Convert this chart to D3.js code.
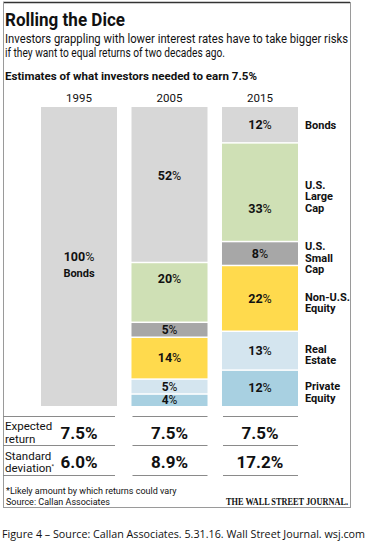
<!DOCTYPE html>
<html>
<head>
<meta charset="utf-8">
<script src="https://cdn.jsdelivr.net/npm/d3@7/dist/d3.min.js"></script>
<style>
  html, body { margin: 0; padding: 0; background: #fff; }
  svg { display: block; }
  text { font-family: "Roboto", "Liberation Sans", sans-serif; fill: #111; }
</style>
</head>
<body>
<svg id="chart" width="370" height="541"></svg>
<script>
// ---- data ----
const years = ["1995", "2005", "2015"];
const categories = ["Bonds", "U.S. Large Cap", "U.S. Small Cap", "Non-U.S. Equity", "Real Estate", "Private Equity"];
const categoryLabelLines = [["Bonds"], ["U.S.", "Large", "Cap"], ["U.S.", "Small", "Cap"], ["Non-U.S.", "Equity"], ["Real", "Estate"], ["Private", "Equity"]];
const values1995 = [100, 0, 0, 0, 0, 0];
const values2005 = [52, 20, 5, 14, 5, 4];
const values2015 = [12, 33, 8, 22, 13, 12];
const expectedReturn = [7.5, 7.5, 7.5];
const standardDeviation = [6.0, 8.9, 17.2];

const colors = ["#d7d7d7", "#cfe0b5", "#a7a7a7", "#ffda4d", "#d4e5ef", "#a8d0e1"];

// ---- build table ----
const allValues = [values1995, values2005, values2015];
const table = years.map((yr, i) => {
  const row = { year: yr };
  categories.forEach((c, j) => row[c] = allValues[i][j]);
  return row;
});
const series = d3.stack().keys(categories)(table);

const svg = d3.select("#chart");

const x = d3.scaleBand().domain(years).range([41, 298]).paddingInner(0.16).paddingOuter(0);
const y = d3.scaleLinear().domain([0, 100]).range([107, 406]);
const color = d3.scaleOrdinal().domain(categories).range(colors);

// frame
svg.append("line").attr("x1", 3).attr("x2", 350).attr("y1", 2.5).attr("y2", 2.5).attr("stroke", "#333").attr("stroke-width", 1.6);
svg.append("line").attr("x1", 3.5).attr("x2", 3.5).attr("y1", 2).attr("y2", 507.5).attr("stroke", "#9a9a9a");
svg.append("line").attr("x1", 350.5).attr("x2", 350.5).attr("y1", 2).attr("y2", 507.5).attr("stroke", "#9a9a9a");
svg.append("line").attr("x1", 3).attr("x2", 351).attr("y1", 507.5).attr("y2", 507.5).attr("stroke", "#9a9a9a");

// titles
svg.append("text").attr("x", 5).attr("y", 26).attr("font-size", 17.5).attr("font-weight", "bold")
  .attr("textLength", 120).attr("lengthAdjust", "spacingAndGlyphs").text("Rolling the Dice");
svg.append("text").attr("x", 5).attr("y", 43).attr("font-size", 12).attr("fill", "#222")
  .attr("textLength", 343).attr("lengthAdjust", "spacingAndGlyphs")
  .text("Investors grappling with lower interest rates have to take bigger risks");
svg.append("text").attr("x", 5).attr("y", 57).attr("font-size", 12).attr("fill", "#222")
  .attr("textLength", 220).attr("lengthAdjust", "spacingAndGlyphs")
  .text("if they want to equal returns of two decades ago.");
svg.append("text").attr("x", 5).attr("y", 80).attr("font-size", 11.5).attr("font-weight", "bold")
  .attr("textLength", 252).attr("lengthAdjust", "spacingAndGlyphs")
  .text("Estimates of what investors needed to earn 7.5%");

// year labels
svg.append("g").selectAll("text").data(years).join("text")
  .attr("x", d => x(d) + x.bandwidth() / 2).attr("y", 102)
  .attr("text-anchor", "middle").attr("font-size", 11.5).text(d => d);

// bars
const gap = 1.5;
const segs = [];
series.forEach((s, j) => {
  s.forEach(d => {
    if (d[1] - d[0] > 0) segs.push({ cat: s.key, idx: j, year: d.data.year, v: d[1] - d[0], y0: d[0], y1: d[1] });
  });
});
svg.append("g").selectAll("rect").data(segs).join("rect")
  .attr("x", d => x(d.year))
  .attr("width", x.bandwidth())
  .attr("y", d => y(d.y0) + (d.y0 > 0 ? gap / 2 : 0))
  .attr("height", d => y(d.y1) - y(d.y0) - (d.y0 > 0 ? gap / 2 : 0) - (d.y1 < 100 ? gap / 2 : 0))
  .attr("fill", d => color(d.cat));

// label nudges (annotation placement in the original)
const nudge = { "2005|Bonds": -9, "2005|U.S. Large Cap": -14, "2015|U.S. Large Cap": 16 };
const lbl = svg.append("g").selectAll("text").data(segs).join("text")
  .attr("x", d => x(d.year) + x.bandwidth() / 2)
  .attr("y", d => (y(d.y0) + y(d.y1)) / 2 + 4.3 + (nudge[d.year + "|" + d.cat] || 0))
  .attr("text-anchor", "middle").attr("font-size", d => d.v < 6 ? 12 : 12.5).attr("font-weight", "bold");
lbl.append("tspan").text(d => d.v);
lbl.append("tspan").attr("font-weight", "normal").text("%");
// 1995 "Bonds" sub label
svg.append("text").attr("x", x("1995") + x.bandwidth() / 2).attr("y", (y(0) + y(100)) / 2 + 20)
  .attr("text-anchor", "middle").attr("font-size", 11).attr("font-weight", "bold").text("Bonds");

// right category labels (aligned to 2015 bar)
const last = series.map(s => s[2]);
const catG = svg.append("g");
categories.forEach((c, j) => {
  const d = last[j];
  const lines = categoryLabelLines[j];
  const lh = 11.5;
  const mid = (y(d[0]) + y(d[1])) / 2 + (lines.length > 1 ? 4 : 0);
  const t = catG.append("text").attr("x", 305).attr("font-size", 11).attr("font-weight", "bold");
  lines.forEach((ln, k) => {
    t.append("tspan").attr("x", 305).attr("y", mid - (lines.length - 1) * lh / 2 + k * lh + 4).text(ln);
  });
});

// table rows
const rowLines = [416.5, 445.5, 475.5];
const tg = svg.append("g");
rowLines.forEach(ry => {
  years.forEach((yr, i) => {
    tg.append("line")
      .attr("x1", i === 0 ? 3 : x(yr) + 1).attr("x2", x(yr) + x.bandwidth() - (i === 0 ? 2 : 0))
      .attr("y1", ry).attr("y2", ry).attr("stroke", "#8a8a8a").attr("stroke-width", 1);
  });
});
const rowLabel = (lines, top) => {
  const t = tg.append("text").attr("font-size", 11.5);
  lines.forEach((ln, k) => t.append("tspan").attr("x", 5).attr("y", top + k * 12.5).text(ln));
  return t;
};
rowLabel(["Expected", "return"], 430);
const sd = rowLabel(["Standard", "deviation"], 459.5);
sd.append("tspan").attr("font-size", 6).attr("dy", -4).text("*");

tg.selectAll("text.er").data(expectedReturn).join("text").attr("class", "er")
  .attr("x", (d, i) => x(years[i]) + x.bandwidth() / 2).attr("y", 438.5)
  .attr("text-anchor", "middle").attr("font-size", 17).attr("font-weight", "bold")
  .text(d => d.toFixed(1) + "%");
tg.selectAll("text.sd").data(standardDeviation).join("text").attr("class", "sd")
  .attr("x", (d, i) => x(years[i]) + x.bandwidth() / 2).attr("y", 467.5)
  .attr("text-anchor", "middle").attr("font-size", 17).attr("font-weight", "bold")
  .text(d => d.toFixed(1) + "%");

// footnotes
svg.append("text").attr("x", 6).attr("y", 494).attr("font-size", 9).attr("fill", "#555")
  .text("*Likely amount by which returns could vary");
svg.append("text").attr("x", 6).attr("y", 505).attr("font-size", 9).attr("fill", "#555")
  .text("Source: Callan Associates");
svg.append("text").attr("x", 348).attr("y", 505).attr("text-anchor", "end")
  .attr("font-size", 9.5).attr("font-weight", "bold").style("font-family", "'Liberation Serif', 'DejaVu Serif', serif")
  .attr("textLength", 122).attr("lengthAdjust", "spacingAndGlyphs")
  .text("THE WALL STREET JOURNAL.");

// caption
svg.append("text").attr("x", 2).attr("y", 538).attr("font-size", 10.5).attr("fill", "#222")
  .style("font-family", "'Open Sans', 'Liberation Sans', sans-serif")
  .attr("textLength", 363).attr("lengthAdjust", "spacingAndGlyphs")
  .text("Figure 4 – Source:  Callan Associates.  5.31.16.  Wall Street Journal. wsj.com");
</script>
</body>
</html>
